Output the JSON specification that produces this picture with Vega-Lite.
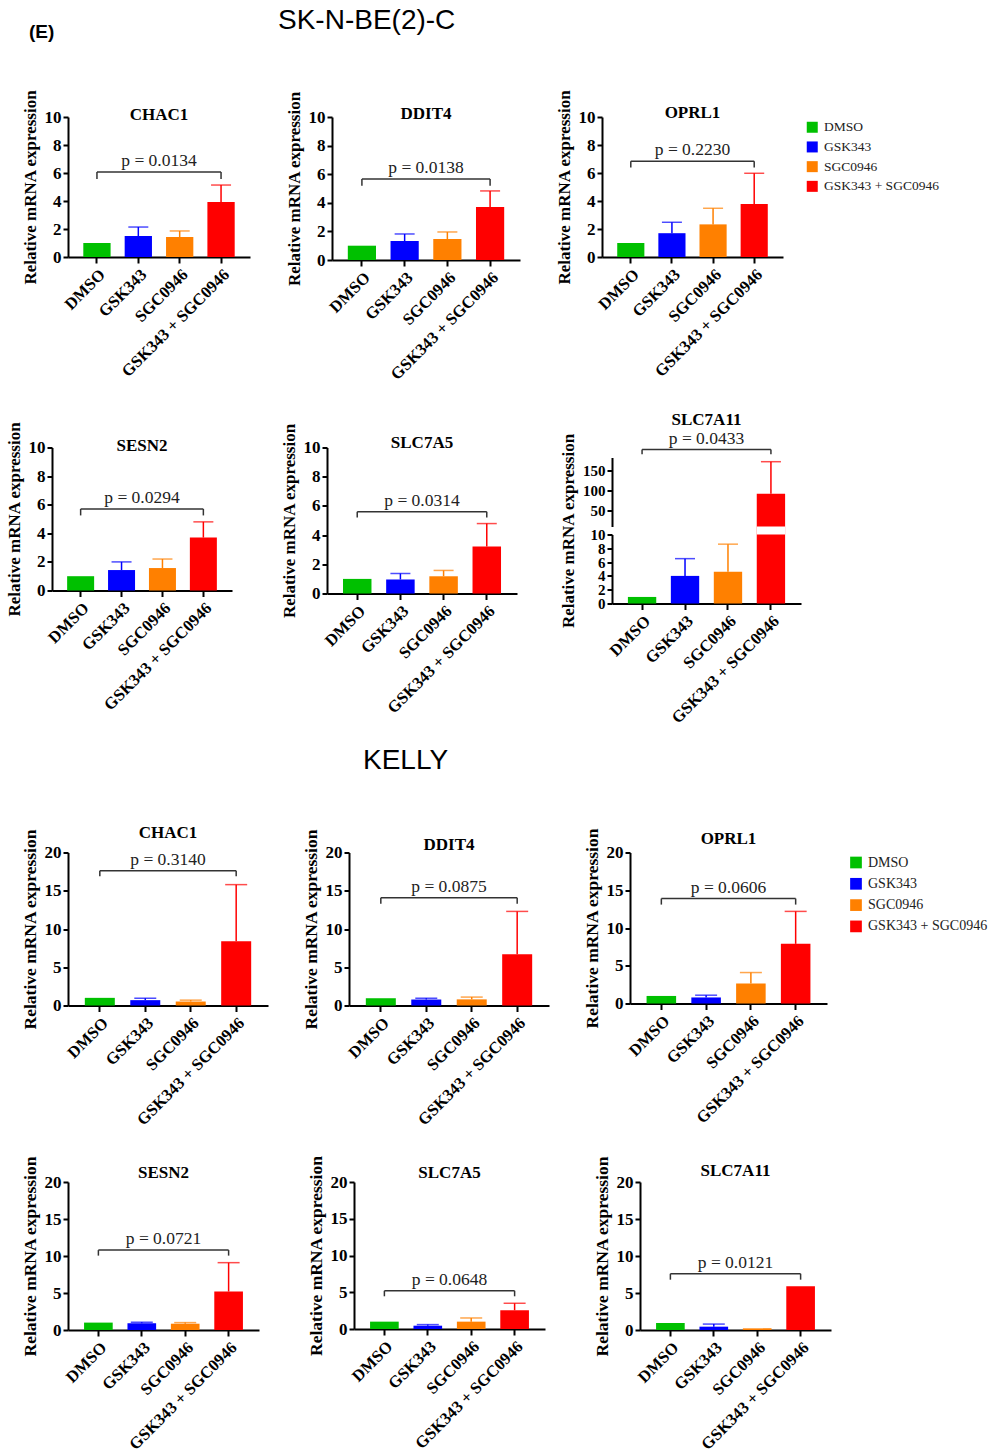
{
"$schema": "https://vega.github.io/schema/vega-lite/v6.json",
"background": "white",
"padding": {"left": 4, "top": 7, "right": 0, "bottom": 0},
"title": {"text": "(E)", "anchor": "start", "dx": 24, "offset": -34.6, "font": "Liberation Sans", "fontSize": 19, "fontWeight": "bold", "color": "#000"},
"datasets": {
"bars": [
{"panel":"SK_CHAC1","treatment":"DMSO","mean":1.0,"upper":1.0},
{"panel":"SK_CHAC1","treatment":"GSK343","mean":1.5,"upper":2.14},
{"panel":"SK_CHAC1","treatment":"SGC0946","mean":1.43,"upper":1.86},
{"panel":"SK_CHAC1","treatment":"GSK343 + SGC0946","mean":3.93,"upper":5.14},
{"panel":"SK_DDIT4","treatment":"DMSO","mean":1.0,"upper":1.0},
{"panel":"SK_DDIT4","treatment":"GSK343","mean":1.33,"upper":1.82},
{"panel":"SK_DDIT4","treatment":"SGC0946","mean":1.47,"upper":1.96},
{"panel":"SK_DDIT4","treatment":"GSK343 + SGC0946","mean":3.71,"upper":4.83},
{"panel":"SK_OPRL1","treatment":"DMSO","mean":1.0,"upper":1.0},
{"panel":"SK_OPRL1","treatment":"GSK343","mean":1.7,"upper":2.48},
{"panel":"SK_OPRL1","treatment":"SGC0946","mean":2.33,"upper":3.48},
{"panel":"SK_OPRL1","treatment":"GSK343 + SGC0946","mean":3.78,"upper":5.98},
{"panel":"SK_SESN2","treatment":"DMSO","mean":1.0,"upper":1.0},
{"panel":"SK_SESN2","treatment":"GSK343","mean":1.43,"upper":2.0},
{"panel":"SK_SESN2","treatment":"SGC0946","mean":1.57,"upper":2.2},
{"panel":"SK_SESN2","treatment":"GSK343 + SGC0946","mean":3.7,"upper":4.8},
{"panel":"SK_SLC7A5","treatment":"DMSO","mean":1.0,"upper":1.0},
{"panel":"SK_SLC7A5","treatment":"GSK343","mean":0.96,"upper":1.37},
{"panel":"SK_SLC7A5","treatment":"SGC0946","mean":1.18,"upper":1.58},
{"panel":"SK_SLC7A5","treatment":"GSK343 + SGC0946","mean":3.22,"upper":4.79},
{"panel":"SK_SLC7A11","treatment":"DMSO","mean":0.95,"upper":0.95},
{"panel":"SK_SLC7A11","treatment":"GSK343","mean":4.0,"upper":6.5},
{"panel":"SK_SLC7A11","treatment":"SGC0946","mean":4.6,"upper":8.6},
{"panel":"SK_SLC7A11","treatment":"GSK343 + SGC0946","mean":92.5,"upper":172.5},
{"panel":"K_CHAC1","treatment":"DMSO","mean":1.0,"upper":1.0},
{"panel":"K_CHAC1","treatment":"GSK343","mean":0.7,"upper":0.95},
{"panel":"K_CHAC1","treatment":"SGC0946","mean":0.52,"upper":0.7},
{"panel":"K_CHAC1","treatment":"GSK343 + SGC0946","mean":8.4,"upper":15.8},
{"panel":"K_DDIT4","treatment":"DMSO","mean":0.95,"upper":0.95},
{"panel":"K_DDIT4","treatment":"GSK343","mean":0.78,"upper":0.95},
{"panel":"K_DDIT4","treatment":"SGC0946","mean":0.8,"upper":1.1},
{"panel":"K_DDIT4","treatment":"GSK343 + SGC0946","mean":6.7,"upper":12.3},
{"panel":"K_OPRL1","treatment":"DMSO","mean":1.0,"upper":1.0},
{"panel":"K_OPRL1","treatment":"GSK343","mean":0.8,"upper":1.1},
{"panel":"K_OPRL1","treatment":"SGC0946","mean":2.65,"upper":4.1},
{"panel":"K_OPRL1","treatment":"GSK343 + SGC0946","mean":7.9,"upper":12.2},
{"panel":"K_SESN2","treatment":"DMSO","mean":1.0,"upper":1.0},
{"panel":"K_SESN2","treatment":"GSK343","mean":0.9,"upper":1.05},
{"panel":"K_SESN2","treatment":"SGC0946","mean":0.85,"upper":1.0},
{"panel":"K_SESN2","treatment":"GSK343 + SGC0946","mean":5.2,"upper":9.1},
{"panel":"K_SLC7A5","treatment":"DMSO","mean":1.0,"upper":1.0},
{"panel":"K_SLC7A5","treatment":"GSK343","mean":0.45,"upper":0.6},
{"panel":"K_SLC7A5","treatment":"SGC0946","mean":1.0,"upper":1.5},
{"panel":"K_SLC7A5","treatment":"GSK343 + SGC0946","mean":2.55,"upper":3.5},
{"panel":"K_SLC7A11","treatment":"DMSO","mean":0.95,"upper":0.95},
{"panel":"K_SLC7A11","treatment":"GSK343","mean":0.45,"upper":0.8},
{"panel":"K_SLC7A11","treatment":"SGC0946","mean":0.22,"upper":0.22},
{"panel":"K_SLC7A11","treatment":"GSK343 + SGC0946","mean":5.9,"upper":5.9}
],
"brackets": [
{"panel":"SK_CHAC1","left":"DMSO","right":"GSK343 + SGC0946","y":6.07,"y2":5.57,"p":"p = 0.0134"},
{"panel":"SK_DDIT4","left":"DMSO","right":"GSK343 + SGC0946","y":5.66,"y2":5.2,"p":"p = 0.0138"},
{"panel":"SK_OPRL1","left":"DMSO","right":"GSK343 + SGC0946","y":6.84,"y2":6.4,"p":"p = 0.2230"},
{"panel":"SK_SESN2","left":"DMSO","right":"GSK343 + SGC0946","y":5.7,"y2":5.25,"p":"p = 0.0294"},
{"panel":"SK_SLC7A5","left":"DMSO","right":"GSK343 + SGC0946","y":5.6,"y2":5.2,"p":"p = 0.0314"},
{"panel":"SK_SLC7A11","left":"DMSO","right":"GSK343 + SGC0946","y":203,"y2":191,"p":"p = 0.0433"},
{"panel":"K_CHAC1","left":"DMSO","right":"GSK343 + SGC0946","y":17.6,"y2":16.9,"p":"p = 0.3140"},
{"panel":"K_DDIT4","left":"DMSO","right":"GSK343 + SGC0946","y":14.1,"y2":13.3,"p":"p = 0.0875"},
{"panel":"K_OPRL1","left":"DMSO","right":"GSK343 + SGC0946","y":13.9,"y2":13.1,"p":"p = 0.0606"},
{"panel":"K_SESN2","left":"DMSO","right":"GSK343 + SGC0946","y":10.8,"y2":10.05,"p":"p = 0.0721"},
{"panel":"K_SLC7A5","left":"DMSO","right":"GSK343 + SGC0946","y":5.2,"y2":4.45,"p":"p = 0.0648"},
{"panel":"K_SLC7A11","left":"DMSO","right":"GSK343 + SGC0946","y":7.6,"y2":6.8,"p":"p = 0.0121"}
]
},
"spacing": 19.5,
"align": "none",
"resolve": {"scale": {"color": "independent"}},
"vconcat": [
{
"title": {"text": "SK-N-BE(2)-C", "anchor": "start", "dx": 273, "offset": 54.4, "font": "Liberation Sans", "fontSize": 28, "fontWeight": "normal", "color": "#000"},
"spacing": 27.5,
"align": "none",
"resolve": {"scale": {"color": "independent"}},
"vconcat": [
{
"bounds": "flush", "spacing": 4, "align": "none",
"resolve": {"scale": {"color": "independent"}},
"hconcat": [
{"width": 12, "height": 1, "data": {"values": []}, "mark": "point"},
{
"width": 182, "height": 140,
"title": {"text": "CHAC1", "offset": -34.5},
"layer": [
{"data": {"name": "bars"}, "transform": [{"filter": "datum.panel === 'SK_CHAC1'"}],
"layer": [
{"mark": {"type": "bar"}, "encoding": {
"x": {"field": "treatment", "type": "nominal", "scale": {"domain": ["DMSO","GSK343","SGC0946","GSK343 + SGC0946"], "paddingInner": 0.34, "paddingOuter": 0.37}, "axis": {"title": null}},
"y": {"field": "mean", "type": "quantitative", "stack": null, "scale": {"domain": [0,10], "nice": false}, "axis": {"title": "Relative mRNA expression", "values": [0,2,4,6,8,10], "tickCount": 20, "format": "d"}},
"color": {"field": "treatment", "type": "nominal", "scale": {"domain": ["DMSO","GSK343","SGC0946","GSK343 + SGC0946"], "range": ["#00C000","#0000FF","#FF8000","#FF0000"]}, "legend": null}}},
{"transform": [{"filter": "datum.upper > datum.mean"}], "mark": {"type": "rule", "strokeWidth": 1.5}, "encoding": {
"x": {"field": "treatment", "type": "nominal"},
"y": {"field": "mean", "type": "quantitative"}, "y2": {"field": "upper"},
"color": {"field": "treatment", "type": "nominal", "legend": null}}},
{"transform": [{"filter": "datum.upper > datum.mean"}], "mark": {"type": "tick", "thickness": 1.5, "size": 20}, "encoding": {
"x": {"field": "treatment", "type": "nominal"},
"y": {"field": "upper", "type": "quantitative"},
"color": {"field": "treatment", "type": "nominal", "legend": null}}}
]},
{"data": {"name": "brackets"}, "transform": [{"filter": "datum.panel === 'SK_CHAC1'"}],
"layer": [
{"mark": {"type": "rule", "strokeWidth": 1.5, "color": "#333"}, "encoding": {"x": {"field": "left", "type": "nominal"}, "x2": {"field": "right"}, "y": {"field": "y", "type": "quantitative"}}},
{"mark": {"type": "rule", "strokeWidth": 1.5, "color": "#333"}, "encoding": {"x": {"field": "left", "type": "nominal"}, "y": {"field": "y", "type": "quantitative"}, "y2": {"field": "y2"}}},
{"mark": {"type": "rule", "strokeWidth": 1.5, "color": "#333"}, "encoding": {"x": {"field": "right", "type": "nominal"}, "y": {"field": "y", "type": "quantitative"}, "y2": {"field": "y2"}}},
{"mark": {"type": "text", "font": "Liberation Serif", "fontSize": 17.5, "color": "#222", "baseline": "alphabetic", "dy": -6}, "encoding": {"y": {"field": "y", "type": "quantitative"}, "text": {"field": "p"}}}
]}
]
},
{"width": 74, "height": 1, "data": {"values": []}, "mark": "point"},
{
"width": 188, "height": 143,
"title": {"text": "DDIT4", "offset": -32},
"layer": [
{"data": {"name": "bars"}, "transform": [{"filter": "datum.panel === 'SK_DDIT4'"}],
"layer": [
{"mark": {"type": "bar"}, "encoding": {
"x": {"field": "treatment", "type": "nominal", "scale": {"domain": ["DMSO","GSK343","SGC0946","GSK343 + SGC0946"], "paddingInner": 0.34, "paddingOuter": 0.37}, "axis": {"title": null}},
"y": {"field": "mean", "type": "quantitative", "stack": null, "scale": {"domain": [0,10], "nice": false}, "axis": {"title": "Relative mRNA expression", "values": [0,2,4,6,8,10], "tickCount": 20, "format": "d"}},
"color": {"field": "treatment", "type": "nominal", "scale": {"domain": ["DMSO","GSK343","SGC0946","GSK343 + SGC0946"], "range": ["#00C000","#0000FF","#FF8000","#FF0000"]}, "legend": null}}},
{"transform": [{"filter": "datum.upper > datum.mean"}], "mark": {"type": "rule", "strokeWidth": 1.5}, "encoding": {
"x": {"field": "treatment", "type": "nominal"},
"y": {"field": "mean", "type": "quantitative"}, "y2": {"field": "upper"},
"color": {"field": "treatment", "type": "nominal", "legend": null}}},
{"transform": [{"filter": "datum.upper > datum.mean"}], "mark": {"type": "tick", "thickness": 1.5, "size": 20}, "encoding": {
"x": {"field": "treatment", "type": "nominal"},
"y": {"field": "upper", "type": "quantitative"},
"color": {"field": "treatment", "type": "nominal", "legend": null}}}
]},
{"data": {"name": "brackets"}, "transform": [{"filter": "datum.panel === 'SK_DDIT4'"}],
"layer": [
{"mark": {"type": "rule", "strokeWidth": 1.5, "color": "#333"}, "encoding": {"x": {"field": "left", "type": "nominal"}, "x2": {"field": "right"}, "y": {"field": "y", "type": "quantitative"}}},
{"mark": {"type": "rule", "strokeWidth": 1.5, "color": "#333"}, "encoding": {"x": {"field": "left", "type": "nominal"}, "y": {"field": "y", "type": "quantitative"}, "y2": {"field": "y2"}}},
{"mark": {"type": "rule", "strokeWidth": 1.5, "color": "#333"}, "encoding": {"x": {"field": "right", "type": "nominal"}, "y": {"field": "y", "type": "quantitative"}, "y2": {"field": "y2"}}},
{"mark": {"type": "text", "font": "Liberation Serif", "fontSize": 17.5, "color": "#222", "baseline": "alphabetic", "dy": -6}, "encoding": {"y": {"field": "y", "type": "quantitative"}, "text": {"field": "p"}}}
]}
]
},
{"width": 74, "height": 1, "data": {"values": []}, "mark": "point"},
{
"width": 181, "height": 140,
"title": {"text": "OPRL1", "offset": -32.5},
"layer": [
{"data": {"name": "bars"}, "transform": [{"filter": "datum.panel === 'SK_OPRL1'"}],
"layer": [
{"mark": {"type": "bar"}, "encoding": {
"x": {"field": "treatment", "type": "nominal", "scale": {"domain": ["DMSO","GSK343","SGC0946","GSK343 + SGC0946"], "paddingInner": 0.34, "paddingOuter": 0.37}, "axis": {"title": null}},
"y": {"field": "mean", "type": "quantitative", "stack": null, "scale": {"domain": [0,10], "nice": false}, "axis": {"title": "Relative mRNA expression", "values": [0,2,4,6,8,10], "tickCount": 20, "format": "d"}},
"color": {"field": "treatment", "type": "nominal", "scale": {"domain": ["DMSO","GSK343","SGC0946","GSK343 + SGC0946"], "range": ["#00C000","#0000FF","#FF8000","#FF0000"]}, "legend": {"title": null, "orient": "right", "offset": 18.5, "padding": 3.5, "symbolType": "square", "symbolSize": 121, "symbolStrokeWidth": 0, "labelFont": "Liberation Serif", "labelFontSize": 13.5, "labelFontWeight": "normal", "labelColor": "#222", "rowPadding": 4.7, "labelOffset": 5}}}},
{"transform": [{"filter": "datum.upper > datum.mean"}], "mark": {"type": "rule", "strokeWidth": 1.5}, "encoding": {
"x": {"field": "treatment", "type": "nominal"},
"y": {"field": "mean", "type": "quantitative"}, "y2": {"field": "upper"},
"color": {"field": "treatment", "type": "nominal", "legend": null}}},
{"transform": [{"filter": "datum.upper > datum.mean"}], "mark": {"type": "tick", "thickness": 1.5, "size": 20}, "encoding": {
"x": {"field": "treatment", "type": "nominal"},
"y": {"field": "upper", "type": "quantitative"},
"color": {"field": "treatment", "type": "nominal", "legend": null}}}
]},
{"data": {"name": "brackets"}, "transform": [{"filter": "datum.panel === 'SK_OPRL1'"}],
"layer": [
{"mark": {"type": "rule", "strokeWidth": 1.5, "color": "#333"}, "encoding": {"x": {"field": "left", "type": "nominal"}, "x2": {"field": "right"}, "y": {"field": "y", "type": "quantitative"}}},
{"mark": {"type": "rule", "strokeWidth": 1.5, "color": "#333"}, "encoding": {"x": {"field": "left", "type": "nominal"}, "y": {"field": "y", "type": "quantitative"}, "y2": {"field": "y2"}}},
{"mark": {"type": "rule", "strokeWidth": 1.5, "color": "#333"}, "encoding": {"x": {"field": "right", "type": "nominal"}, "y": {"field": "y", "type": "quantitative"}, "y2": {"field": "y2"}}},
{"mark": {"type": "text", "font": "Liberation Serif", "fontSize": 17.5, "color": "#222", "baseline": "alphabetic", "dy": -6}, "encoding": {"y": {"field": "y", "type": "quantitative"}, "text": {"field": "p"}}}
]}
]
}
]
},
{
"bounds": "flush", "spacing": 4, "align": "none",
"resolve": {"scale": {"color": "independent"}},
"hconcat": [
{
"width": 180, "height": 143,
"title": {"text": "SESN2", "offset": -34},
"layer": [
{"data": {"name": "bars"}, "transform": [{"filter": "datum.panel === 'SK_SESN2'"}],
"layer": [
{"mark": {"type": "bar"}, "encoding": {
"x": {"field": "treatment", "type": "nominal", "scale": {"domain": ["DMSO","GSK343","SGC0946","GSK343 + SGC0946"], "paddingInner": 0.34, "paddingOuter": 0.37}, "axis": {"title": null}},
"y": {"field": "mean", "type": "quantitative", "stack": null, "scale": {"domain": [0,10], "nice": false}, "axis": {"title": "Relative mRNA expression", "values": [0,2,4,6,8,10], "tickCount": 20, "format": "d"}},
"color": {"field": "treatment", "type": "nominal", "scale": {"domain": ["DMSO","GSK343","SGC0946","GSK343 + SGC0946"], "range": ["#00C000","#0000FF","#FF8000","#FF0000"]}, "legend": null}}},
{"transform": [{"filter": "datum.upper > datum.mean"}], "mark": {"type": "rule", "strokeWidth": 1.5}, "encoding": {
"x": {"field": "treatment", "type": "nominal"},
"y": {"field": "mean", "type": "quantitative"}, "y2": {"field": "upper"},
"color": {"field": "treatment", "type": "nominal", "legend": null}}},
{"transform": [{"filter": "datum.upper > datum.mean"}], "mark": {"type": "tick", "thickness": 1.5, "size": 20}, "encoding": {
"x": {"field": "treatment", "type": "nominal"},
"y": {"field": "upper", "type": "quantitative"},
"color": {"field": "treatment", "type": "nominal", "legend": null}}}
]},
{"data": {"name": "brackets"}, "transform": [{"filter": "datum.panel === 'SK_SESN2'"}],
"layer": [
{"mark": {"type": "rule", "strokeWidth": 1.5, "color": "#333"}, "encoding": {"x": {"field": "left", "type": "nominal"}, "x2": {"field": "right"}, "y": {"field": "y", "type": "quantitative"}}},
{"mark": {"type": "rule", "strokeWidth": 1.5, "color": "#333"}, "encoding": {"x": {"field": "left", "type": "nominal"}, "y": {"field": "y", "type": "quantitative"}, "y2": {"field": "y2"}}},
{"mark": {"type": "rule", "strokeWidth": 1.5, "color": "#333"}, "encoding": {"x": {"field": "right", "type": "nominal"}, "y": {"field": "y", "type": "quantitative"}, "y2": {"field": "y2"}}},
{"mark": {"type": "text", "font": "Liberation Serif", "fontSize": 17.5, "color": "#222", "baseline": "alphabetic", "dy": -6}, "encoding": {"y": {"field": "y", "type": "quantitative"}, "text": {"field": "p"}}}
]}
]
},
{"width": 86.5, "height": 1, "data": {"values": []}, "mark": "point"},
{
"width": 190, "height": 146,
"title": {"text": "SLC7A5", "offset": -29.5},
"layer": [
{"data": {"name": "bars"}, "transform": [{"filter": "datum.panel === 'SK_SLC7A5'"}],
"layer": [
{"mark": {"type": "bar"}, "encoding": {
"x": {"field": "treatment", "type": "nominal", "scale": {"domain": ["DMSO","GSK343","SGC0946","GSK343 + SGC0946"], "paddingInner": 0.34, "paddingOuter": 0.37}, "axis": {"title": null}},
"y": {"field": "mean", "type": "quantitative", "stack": null, "scale": {"domain": [0,10], "nice": false}, "axis": {"title": "Relative mRNA expression", "values": [0,2,4,6,8,10], "tickCount": 20, "format": "d"}},
"color": {"field": "treatment", "type": "nominal", "scale": {"domain": ["DMSO","GSK343","SGC0946","GSK343 + SGC0946"], "range": ["#00C000","#0000FF","#FF8000","#FF0000"]}, "legend": null}}},
{"transform": [{"filter": "datum.upper > datum.mean"}], "mark": {"type": "rule", "strokeWidth": 1.5}, "encoding": {
"x": {"field": "treatment", "type": "nominal"},
"y": {"field": "mean", "type": "quantitative"}, "y2": {"field": "upper"},
"color": {"field": "treatment", "type": "nominal", "legend": null}}},
{"transform": [{"filter": "datum.upper > datum.mean"}], "mark": {"type": "tick", "thickness": 1.5, "size": 20}, "encoding": {
"x": {"field": "treatment", "type": "nominal"},
"y": {"field": "upper", "type": "quantitative"},
"color": {"field": "treatment", "type": "nominal", "legend": null}}}
]},
{"data": {"name": "brackets"}, "transform": [{"filter": "datum.panel === 'SK_SLC7A5'"}],
"layer": [
{"mark": {"type": "rule", "strokeWidth": 1.5, "color": "#333"}, "encoding": {"x": {"field": "left", "type": "nominal"}, "x2": {"field": "right"}, "y": {"field": "y", "type": "quantitative"}}},
{"mark": {"type": "rule", "strokeWidth": 1.5, "color": "#333"}, "encoding": {"x": {"field": "left", "type": "nominal"}, "y": {"field": "y", "type": "quantitative"}, "y2": {"field": "y2"}}},
{"mark": {"type": "rule", "strokeWidth": 1.5, "color": "#333"}, "encoding": {"x": {"field": "right", "type": "nominal"}, "y": {"field": "y", "type": "quantitative"}, "y2": {"field": "y2"}}},
{"mark": {"type": "text", "font": "Liberation Serif", "fontSize": 17.5, "color": "#222", "baseline": "alphabetic", "dy": -6}, "encoding": {"y": {"field": "y", "type": "quantitative"}, "text": {"field": "p"}}}
]}
]
},
{"width": 86.5, "height": 1, "data": {"values": []}, "mark": "point"},
{
"width": 189, "height": 156,
"title": {"text": "SLC7A11", "offset": 0.1},
"layer": [
{"data": {"name": "bars"}, "transform": [{"filter": "datum.panel === 'SK_SLC7A11'"}],
"layer": [
{"mark": {"type": "bar"}, "encoding": {
"x": {"field": "treatment", "type": "nominal", "scale": {"domain": ["DMSO","GSK343","SGC0946","GSK343 + SGC0946"], "paddingInner": 0.34, "paddingOuter": 0.37}, "axis": {"title": null}},
"y": {"field": "mean", "type": "quantitative", "stack": null, "scale": {"domain": [0,10,10.5,183], "range": [156,87,79,10], "nice": false, "zero": false}, "axis": {"title": "Relative mRNA expression", "values": [0,2,4,6,8,10,50,100,150], "tickCount": 20, "format": "d", "labelFontSize": 15, "domainDash": [69,8,69]}},
"color": {"field": "treatment", "type": "nominal", "scale": {"domain": ["DMSO","GSK343","SGC0946","GSK343 + SGC0946"], "range": ["#00C000","#0000FF","#FF8000","#FF0000"]}, "legend": null}}},
{"transform": [{"filter": "datum.mean > 10"}], "mark": {"type": "bar", "color": "white"}, "encoding": {
"x": {"field": "treatment", "type": "nominal"},
"y": {"datum": 10, "type": "quantitative"}, "y2": {"datum": 10.5}}},
{"transform": [{"filter": "datum.upper > datum.mean"}], "mark": {"type": "rule", "strokeWidth": 1.5}, "encoding": {
"x": {"field": "treatment", "type": "nominal"},
"y": {"field": "mean", "type": "quantitative"}, "y2": {"field": "upper"},
"color": {"field": "treatment", "type": "nominal", "legend": null}}},
{"transform": [{"filter": "datum.upper > datum.mean"}], "mark": {"type": "tick", "thickness": 1.5, "size": 20}, "encoding": {
"x": {"field": "treatment", "type": "nominal"},
"y": {"field": "upper", "type": "quantitative"},
"color": {"field": "treatment", "type": "nominal", "legend": null}}}
]},
{"data": {"name": "brackets"}, "transform": [{"filter": "datum.panel === 'SK_SLC7A11'"}],
"layer": [
{"mark": {"type": "rule", "strokeWidth": 1.5, "color": "#333"}, "encoding": {"x": {"field": "left", "type": "nominal"}, "x2": {"field": "right"}, "y": {"field": "y", "type": "quantitative"}}},
{"mark": {"type": "rule", "strokeWidth": 1.5, "color": "#333"}, "encoding": {"x": {"field": "left", "type": "nominal"}, "y": {"field": "y", "type": "quantitative"}, "y2": {"field": "y2"}}},
{"mark": {"type": "rule", "strokeWidth": 1.5, "color": "#333"}, "encoding": {"x": {"field": "right", "type": "nominal"}, "y": {"field": "y", "type": "quantitative"}, "y2": {"field": "y2"}}},
{"mark": {"type": "text", "font": "Liberation Serif", "fontSize": 17.5, "color": "#222", "baseline": "alphabetic", "dy": -6}, "encoding": {"y": {"field": "y", "type": "quantitative"}, "text": {"field": "p"}}}
]}
]
}
]
}
]
},
{
"title": {"text": "KELLY", "anchor": "start", "dx": 342, "offset": 48.4, "font": "Liberation Sans", "fontSize": 28, "fontWeight": "normal", "color": "#000"},
"spacing": 26.5,
"align": "none",
"resolve": {"scale": {"color": "independent"}},
"vconcat": [
{
"bounds": "flush", "spacing": 4, "align": "none",
"resolve": {"scale": {"color": "independent"}},
"hconcat": [
{"width": 12, "height": 1, "data": {"values": []}, "mark": "point"},
{
"width": 200, "height": 153,
"title": {"text": "CHAC1", "offset": -13},
"layer": [
{"data": {"name": "bars"}, "transform": [{"filter": "datum.panel === 'K_CHAC1'"}],
"layer": [
{"mark": {"type": "bar"}, "encoding": {
"x": {"field": "treatment", "type": "nominal", "scale": {"domain": ["DMSO","GSK343","SGC0946","GSK343 + SGC0946"], "paddingInner": 0.34, "paddingOuter": 0.37}, "axis": {"title": null}},
"y": {"field": "mean", "type": "quantitative", "stack": null, "scale": {"domain": [0,20], "nice": false}, "axis": {"title": "Relative mRNA expression", "values": [0,5,10,15,20], "tickCount": 20, "format": "d", "titleFontSize": 17.5}},
"color": {"field": "treatment", "type": "nominal", "scale": {"domain": ["DMSO","GSK343","SGC0946","GSK343 + SGC0946"], "range": ["#00C000","#0000FF","#FF8000","#FF0000"]}, "legend": null}}},
{"transform": [{"filter": "datum.upper > datum.mean"}], "mark": {"type": "rule", "strokeWidth": 1.5}, "encoding": {
"x": {"field": "treatment", "type": "nominal"},
"y": {"field": "mean", "type": "quantitative"}, "y2": {"field": "upper"},
"color": {"field": "treatment", "type": "nominal", "legend": null}}},
{"transform": [{"filter": "datum.upper > datum.mean"}], "mark": {"type": "tick", "thickness": 1.5, "size": 22}, "encoding": {
"x": {"field": "treatment", "type": "nominal"},
"y": {"field": "upper", "type": "quantitative"},
"color": {"field": "treatment", "type": "nominal", "legend": null}}}
]},
{"data": {"name": "brackets"}, "transform": [{"filter": "datum.panel === 'K_CHAC1'"}],
"layer": [
{"mark": {"type": "rule", "strokeWidth": 1.5, "color": "#333"}, "encoding": {"x": {"field": "left", "type": "nominal"}, "x2": {"field": "right"}, "y": {"field": "y", "type": "quantitative"}}},
{"mark": {"type": "rule", "strokeWidth": 1.5, "color": "#333"}, "encoding": {"x": {"field": "left", "type": "nominal"}, "y": {"field": "y", "type": "quantitative"}, "y2": {"field": "y2"}}},
{"mark": {"type": "rule", "strokeWidth": 1.5, "color": "#333"}, "encoding": {"x": {"field": "right", "type": "nominal"}, "y": {"field": "y", "type": "quantitative"}, "y2": {"field": "y2"}}},
{"mark": {"type": "text", "font": "Liberation Serif", "fontSize": 17.5, "color": "#222", "baseline": "alphabetic", "dy": -6}, "encoding": {"y": {"field": "y", "type": "quantitative"}, "text": {"field": "p"}}}
]}
]
},
{"width": 72.5, "height": 1, "data": {"values": []}, "mark": "point"},
{
"width": 200, "height": 153,
"title": {"text": "DDIT4", "offset": -25},
"layer": [
{"data": {"name": "bars"}, "transform": [{"filter": "datum.panel === 'K_DDIT4'"}],
"layer": [
{"mark": {"type": "bar"}, "encoding": {
"x": {"field": "treatment", "type": "nominal", "scale": {"domain": ["DMSO","GSK343","SGC0946","GSK343 + SGC0946"], "paddingInner": 0.34, "paddingOuter": 0.37}, "axis": {"title": null}},
"y": {"field": "mean", "type": "quantitative", "stack": null, "scale": {"domain": [0,20], "nice": false}, "axis": {"title": "Relative mRNA expression", "values": [0,5,10,15,20], "tickCount": 20, "format": "d", "titleFontSize": 17.5}},
"color": {"field": "treatment", "type": "nominal", "scale": {"domain": ["DMSO","GSK343","SGC0946","GSK343 + SGC0946"], "range": ["#00C000","#0000FF","#FF8000","#FF0000"]}, "legend": null}}},
{"transform": [{"filter": "datum.upper > datum.mean"}], "mark": {"type": "rule", "strokeWidth": 1.5}, "encoding": {
"x": {"field": "treatment", "type": "nominal"},
"y": {"field": "mean", "type": "quantitative"}, "y2": {"field": "upper"},
"color": {"field": "treatment", "type": "nominal", "legend": null}}},
{"transform": [{"filter": "datum.upper > datum.mean"}], "mark": {"type": "tick", "thickness": 1.5, "size": 22}, "encoding": {
"x": {"field": "treatment", "type": "nominal"},
"y": {"field": "upper", "type": "quantitative"},
"color": {"field": "treatment", "type": "nominal", "legend": null}}}
]},
{"data": {"name": "brackets"}, "transform": [{"filter": "datum.panel === 'K_DDIT4'"}],
"layer": [
{"mark": {"type": "rule", "strokeWidth": 1.5, "color": "#333"}, "encoding": {"x": {"field": "left", "type": "nominal"}, "x2": {"field": "right"}, "y": {"field": "y", "type": "quantitative"}}},
{"mark": {"type": "rule", "strokeWidth": 1.5, "color": "#333"}, "encoding": {"x": {"field": "left", "type": "nominal"}, "y": {"field": "y", "type": "quantitative"}, "y2": {"field": "y2"}}},
{"mark": {"type": "rule", "strokeWidth": 1.5, "color": "#333"}, "encoding": {"x": {"field": "right", "type": "nominal"}, "y": {"field": "y", "type": "quantitative"}, "y2": {"field": "y2"}}},
{"mark": {"type": "text", "font": "Liberation Serif", "fontSize": 17.5, "color": "#222", "baseline": "alphabetic", "dy": -6}, "encoding": {"y": {"field": "y", "type": "quantitative"}, "text": {"field": "p"}}}
]}
]
},
{"width": 72.5, "height": 1, "data": {"values": []}, "mark": "point"},
{
"width": 197, "height": 151,
"title": {"text": "OPRL1", "offset": -20},
"layer": [
{"data": {"name": "bars"}, "transform": [{"filter": "datum.panel === 'K_OPRL1'"}],
"layer": [
{"mark": {"type": "bar"}, "encoding": {
"x": {"field": "treatment", "type": "nominal", "scale": {"domain": ["DMSO","GSK343","SGC0946","GSK343 + SGC0946"], "paddingInner": 0.34, "paddingOuter": 0.37}, "axis": {"title": null}},
"y": {"field": "mean", "type": "quantitative", "stack": null, "scale": {"domain": [0,20], "nice": false}, "axis": {"title": "Relative mRNA expression", "values": [0,5,10,15,20], "tickCount": 20, "format": "d", "titleFontSize": 17.5}},
"color": {"field": "treatment", "type": "nominal", "scale": {"domain": ["DMSO","GSK343","SGC0946","GSK343 + SGC0946"], "range": ["#00C000","#0000FF","#FF8000","#FF0000"]}, "legend": {"title": null, "orient": "right", "offset": 19, "padding": 3, "symbolType": "square", "symbolSize": 137, "symbolStrokeWidth": 0, "labelFont": "Liberation Serif", "labelFontSize": 14, "labelFontWeight": "normal", "labelColor": "#222", "rowPadding": 7.3, "labelOffset": 5}}}},
{"transform": [{"filter": "datum.upper > datum.mean"}], "mark": {"type": "rule", "strokeWidth": 1.5}, "encoding": {
"x": {"field": "treatment", "type": "nominal"},
"y": {"field": "mean", "type": "quantitative"}, "y2": {"field": "upper"},
"color": {"field": "treatment", "type": "nominal", "legend": null}}},
{"transform": [{"filter": "datum.upper > datum.mean"}], "mark": {"type": "tick", "thickness": 1.5, "size": 22}, "encoding": {
"x": {"field": "treatment", "type": "nominal"},
"y": {"field": "upper", "type": "quantitative"},
"color": {"field": "treatment", "type": "nominal", "legend": null}}}
]},
{"data": {"name": "brackets"}, "transform": [{"filter": "datum.panel === 'K_OPRL1'"}],
"layer": [
{"mark": {"type": "rule", "strokeWidth": 1.5, "color": "#333"}, "encoding": {"x": {"field": "left", "type": "nominal"}, "x2": {"field": "right"}, "y": {"field": "y", "type": "quantitative"}}},
{"mark": {"type": "rule", "strokeWidth": 1.5, "color": "#333"}, "encoding": {"x": {"field": "left", "type": "nominal"}, "y": {"field": "y", "type": "quantitative"}, "y2": {"field": "y2"}}},
{"mark": {"type": "rule", "strokeWidth": 1.5, "color": "#333"}, "encoding": {"x": {"field": "right", "type": "nominal"}, "y": {"field": "y", "type": "quantitative"}, "y2": {"field": "y2"}}},
{"mark": {"type": "text", "font": "Liberation Serif", "fontSize": 17.5, "color": "#222", "baseline": "alphabetic", "dy": -6}, "encoding": {"y": {"field": "y", "type": "quantitative"}, "text": {"field": "p"}}}
]}
]
}
]
},
{
"bounds": "flush", "spacing": 4, "align": "none",
"resolve": {"scale": {"color": "independent"}},
"hconcat": [
{"width": 12, "height": 1, "data": {"values": []}, "mark": "point"},
{
"width": 191, "height": 148,
"title": {"text": "SESN2", "offset": -26.5},
"layer": [
{"data": {"name": "bars"}, "transform": [{"filter": "datum.panel === 'K_SESN2'"}],
"layer": [
{"mark": {"type": "bar"}, "encoding": {
"x": {"field": "treatment", "type": "nominal", "scale": {"domain": ["DMSO","GSK343","SGC0946","GSK343 + SGC0946"], "paddingInner": 0.34, "paddingOuter": 0.37}, "axis": {"title": null}},
"y": {"field": "mean", "type": "quantitative", "stack": null, "scale": {"domain": [0,20], "nice": false}, "axis": {"title": "Relative mRNA expression", "values": [0,5,10,15,20], "tickCount": 20, "format": "d", "titleFontSize": 17.5}},
"color": {"field": "treatment", "type": "nominal", "scale": {"domain": ["DMSO","GSK343","SGC0946","GSK343 + SGC0946"], "range": ["#00C000","#0000FF","#FF8000","#FF0000"]}, "legend": null}}},
{"transform": [{"filter": "datum.upper > datum.mean"}], "mark": {"type": "rule", "strokeWidth": 1.5}, "encoding": {
"x": {"field": "treatment", "type": "nominal"},
"y": {"field": "mean", "type": "quantitative"}, "y2": {"field": "upper"},
"color": {"field": "treatment", "type": "nominal", "legend": null}}},
{"transform": [{"filter": "datum.upper > datum.mean"}], "mark": {"type": "tick", "thickness": 1.5, "size": 22}, "encoding": {
"x": {"field": "treatment", "type": "nominal"},
"y": {"field": "upper", "type": "quantitative"},
"color": {"field": "treatment", "type": "nominal", "legend": null}}}
]},
{"data": {"name": "brackets"}, "transform": [{"filter": "datum.panel === 'K_SESN2'"}],
"layer": [
{"mark": {"type": "rule", "strokeWidth": 1.5, "color": "#333"}, "encoding": {"x": {"field": "left", "type": "nominal"}, "x2": {"field": "right"}, "y": {"field": "y", "type": "quantitative"}}},
{"mark": {"type": "rule", "strokeWidth": 1.5, "color": "#333"}, "encoding": {"x": {"field": "left", "type": "nominal"}, "y": {"field": "y", "type": "quantitative"}, "y2": {"field": "y2"}}},
{"mark": {"type": "rule", "strokeWidth": 1.5, "color": "#333"}, "encoding": {"x": {"field": "right", "type": "nominal"}, "y": {"field": "y", "type": "quantitative"}, "y2": {"field": "y2"}}},
{"mark": {"type": "text", "font": "Liberation Serif", "fontSize": 17.5, "color": "#222", "baseline": "alphabetic", "dy": -6}, "encoding": {"y": {"field": "y", "type": "quantitative"}, "text": {"field": "p"}}}
]}
]
},
{"width": 87, "height": 1, "data": {"values": []}, "mark": "point"},
{
"width": 191, "height": 147,
"title": {"text": "SLC7A5", "offset": -27},
"layer": [
{"data": {"name": "bars"}, "transform": [{"filter": "datum.panel === 'K_SLC7A5'"}],
"layer": [
{"mark": {"type": "bar"}, "encoding": {
"x": {"field": "treatment", "type": "nominal", "scale": {"domain": ["DMSO","GSK343","SGC0946","GSK343 + SGC0946"], "paddingInner": 0.34, "paddingOuter": 0.37}, "axis": {"title": null}},
"y": {"field": "mean", "type": "quantitative", "stack": null, "scale": {"domain": [0,20], "nice": false}, "axis": {"title": "Relative mRNA expression", "values": [0,5,10,15,20], "tickCount": 20, "format": "d", "titleFontSize": 17.5}},
"color": {"field": "treatment", "type": "nominal", "scale": {"domain": ["DMSO","GSK343","SGC0946","GSK343 + SGC0946"], "range": ["#00C000","#0000FF","#FF8000","#FF0000"]}, "legend": null}}},
{"transform": [{"filter": "datum.upper > datum.mean"}], "mark": {"type": "rule", "strokeWidth": 1.5}, "encoding": {
"x": {"field": "treatment", "type": "nominal"},
"y": {"field": "mean", "type": "quantitative"}, "y2": {"field": "upper"},
"color": {"field": "treatment", "type": "nominal", "legend": null}}},
{"transform": [{"filter": "datum.upper > datum.mean"}], "mark": {"type": "tick", "thickness": 1.5, "size": 22}, "encoding": {
"x": {"field": "treatment", "type": "nominal"},
"y": {"field": "upper", "type": "quantitative"},
"color": {"field": "treatment", "type": "nominal", "legend": null}}}
]},
{"data": {"name": "brackets"}, "transform": [{"filter": "datum.panel === 'K_SLC7A5'"}],
"layer": [
{"mark": {"type": "rule", "strokeWidth": 1.5, "color": "#333"}, "encoding": {"x": {"field": "left", "type": "nominal"}, "x2": {"field": "right"}, "y": {"field": "y", "type": "quantitative"}}},
{"mark": {"type": "rule", "strokeWidth": 1.5, "color": "#333"}, "encoding": {"x": {"field": "left", "type": "nominal"}, "y": {"field": "y", "type": "quantitative"}, "y2": {"field": "y2"}}},
{"mark": {"type": "rule", "strokeWidth": 1.5, "color": "#333"}, "encoding": {"x": {"field": "right", "type": "nominal"}, "y": {"field": "y", "type": "quantitative"}, "y2": {"field": "y2"}}},
{"mark": {"type": "text", "font": "Liberation Serif", "fontSize": 17.5, "color": "#222", "baseline": "alphabetic", "dy": -6}, "encoding": {"y": {"field": "y", "type": "quantitative"}, "text": {"field": "p"}}}
]}
]
},
{"width": 87, "height": 1, "data": {"values": []}, "mark": "point"},
{
"width": 191, "height": 148,
"title": {"text": "SLC7A11", "offset": -24.5},
"layer": [
{"data": {"name": "bars"}, "transform": [{"filter": "datum.panel === 'K_SLC7A11'"}],
"layer": [
{"mark": {"type": "bar"}, "encoding": {
"x": {"field": "treatment", "type": "nominal", "scale": {"domain": ["DMSO","GSK343","SGC0946","GSK343 + SGC0946"], "paddingInner": 0.34, "paddingOuter": 0.37}, "axis": {"title": null}},
"y": {"field": "mean", "type": "quantitative", "stack": null, "scale": {"domain": [0,20], "nice": false}, "axis": {"title": "Relative mRNA expression", "values": [0,5,10,15,20], "tickCount": 20, "format": "d", "titleFontSize": 17.5}},
"color": {"field": "treatment", "type": "nominal", "scale": {"domain": ["DMSO","GSK343","SGC0946","GSK343 + SGC0946"], "range": ["#00C000","#0000FF","#FF8000","#FF0000"]}, "legend": null}}},
{"transform": [{"filter": "datum.upper > datum.mean"}], "mark": {"type": "rule", "strokeWidth": 1.5}, "encoding": {
"x": {"field": "treatment", "type": "nominal"},
"y": {"field": "mean", "type": "quantitative"}, "y2": {"field": "upper"},
"color": {"field": "treatment", "type": "nominal", "legend": null}}},
{"transform": [{"filter": "datum.upper > datum.mean"}], "mark": {"type": "tick", "thickness": 1.5, "size": 22}, "encoding": {
"x": {"field": "treatment", "type": "nominal"},
"y": {"field": "upper", "type": "quantitative"},
"color": {"field": "treatment", "type": "nominal", "legend": null}}}
]},
{"data": {"name": "brackets"}, "transform": [{"filter": "datum.panel === 'K_SLC7A11'"}],
"layer": [
{"mark": {"type": "rule", "strokeWidth": 1.5, "color": "#333"}, "encoding": {"x": {"field": "left", "type": "nominal"}, "x2": {"field": "right"}, "y": {"field": "y", "type": "quantitative"}}},
{"mark": {"type": "rule", "strokeWidth": 1.5, "color": "#333"}, "encoding": {"x": {"field": "left", "type": "nominal"}, "y": {"field": "y", "type": "quantitative"}, "y2": {"field": "y2"}}},
{"mark": {"type": "rule", "strokeWidth": 1.5, "color": "#333"}, "encoding": {"x": {"field": "right", "type": "nominal"}, "y": {"field": "y", "type": "quantitative"}, "y2": {"field": "y2"}}},
{"mark": {"type": "text", "font": "Liberation Serif", "fontSize": 17.5, "color": "#222", "baseline": "alphabetic", "dy": -6}, "encoding": {"y": {"field": "y", "type": "quantitative"}, "text": {"field": "p"}}}
]}
]
}
]
}
]
}
],
"config": {
"view": {"stroke": null},
"font": "Liberation Serif",
"axis": {"domainColor": "#000", "domainWidth": 2, "tickColor": "#000", "tickWidth": 2, "tickSize": 5, "labelFont": "Liberation Serif", "labelFontWeight": "bold", "labelFontSize": 17, "labelColor": "#000", "labelPadding": 2, "titleFont": "Liberation Serif", "titleFontWeight": "bold", "titleFontSize": 17, "titleColor": "#000", "grid": false, "labelOverlap": false, "labelBound": false},
"axisX": {"labelAngle": -45, "labelFontSize": 16.5, "tickSize": 6, "labelPadding": 3, "labelLimit": 400},
"axisY": {"titlePadding": 5, "labelPadding": 2, "labelFlush": false},
"title": {"font": "Liberation Serif", "fontSize": 17, "fontWeight": "bold", "color": "#000"}
}
}
